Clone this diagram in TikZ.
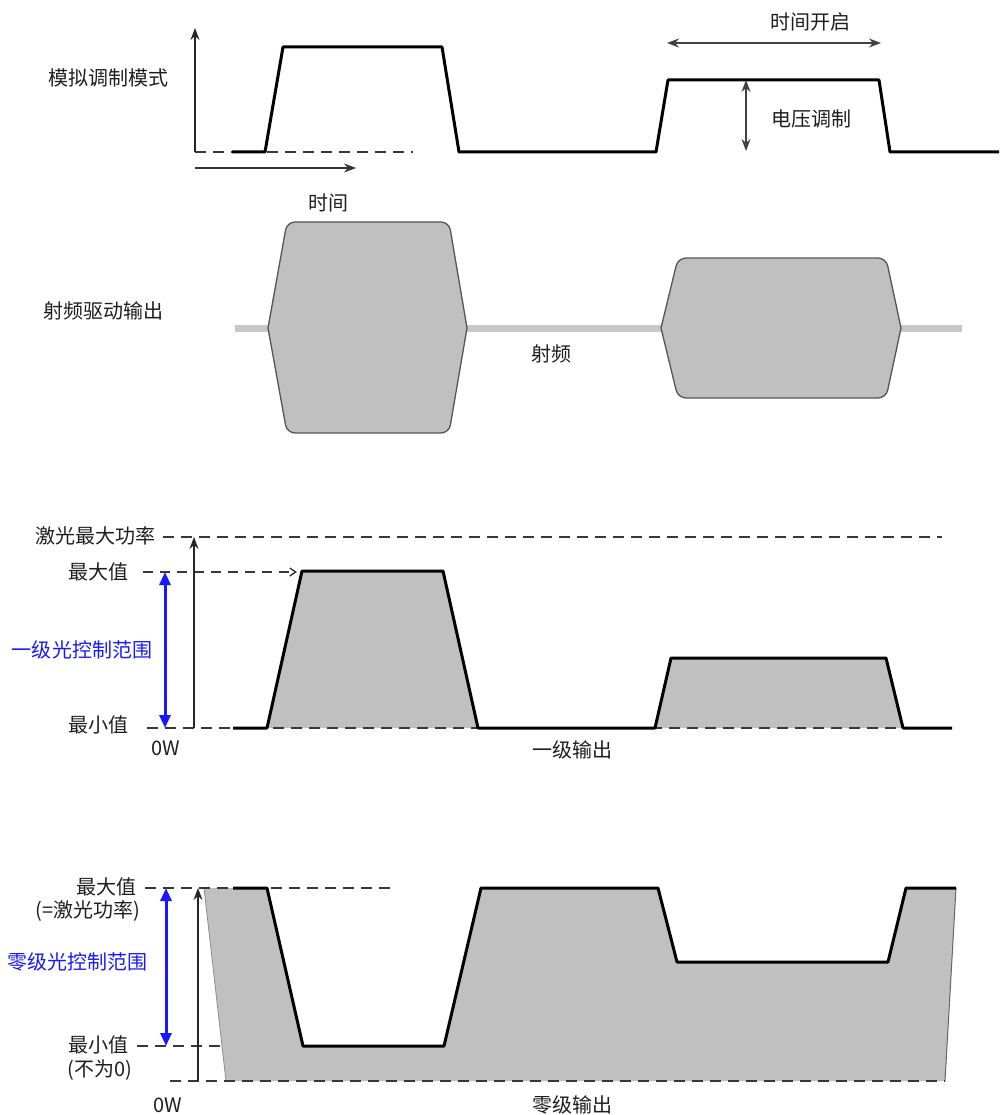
\documentclass[tikz,border=0pt]{standalone}
\usepackage{fontspec}
\setmainfont{Noto Sans CJK SC}
\usetikzlibrary{arrows.meta}
\definecolor{fillgray}{RGB}{192,192,192}
\definecolor{rfline}{RGB}{200,200,200}
\definecolor{edgegray}{RGB}{85,85,85}
\definecolor{dashgray}{RGB}{55,55,55}
\definecolor{lblblue}{RGB}{25,25,255}
\definecolor{txt}{RGB}{30,30,30}
\begin{document}
\begin{tikzpicture}[x=1pt,y=-1pt,
  sig/.style={line width=3pt, black, line join=round},
  dashln/.style={draw=dashgray, line width=1.8pt, dash pattern=on 11pt off 7pt},
  lbl/.style={font=\fontsize{20}{24}\selectfont, text=txt, inner sep=0pt},
  bluelbl/.style={lbl, text=lblblue},
  thinarrow/.style={draw=black!85, line width=1.2pt, -{Stealth[length=12pt,width=9pt]}},
  thindbl/.style={draw=black!75, line width=1.2pt, {Stealth[length=12pt,width=9pt]}-{Stealth[length=12pt,width=9pt]}},
  bluedbl/.style={draw=lblblue, line width=3pt, {Triangle[length=13pt,width=11pt]}-{Triangle[length=13pt,width=11pt]}},
  rfbox/.style={fill=fillgray, draw=edgegray, line width=1.3pt},
  fillarea/.style={fill=fillgray}]
\useasboundingbox (0,0) rectangle (999,1115);

% ---------- Section 1: analog modulation ----------
\coordinate (yaxB) at (195,152);
\coordinate (yaxT) at (195,28);
\coordinate (tA) at (195,168);
\coordinate (tB) at (356,168);
\draw[thinarrow] (yaxB) -- (yaxT);
\draw[thinarrow, draw=black!80] (tA) -- (tB);
\draw[dashln] (195,152) -- (413,152);
\draw[sig] (232,152) -- (265,152) -- (283,47) -- (442,47) -- (459,152) -- (656,152) -- (668,80) -- (879,80) -- (890,152) -- (999,152);
\coordinate (onL) at (667,43);
\coordinate (onR) at (881,43);
\draw[thindbl] (onL) -- (onR);
\coordinate (vmT) at (746,80);
\coordinate (vmB) at (746,151);
\draw[thindbl] (vmT) -- (vmB);
\node[lbl] (anmod) at (108,78) {模拟调制模式};
\node[lbl] (time) at (328,203) {时间};
\node[lbl] (timeon) at (810,22) {时间开启};
\node[lbl] (volt) at (811,119) {电压调制};

% ---------- Section 2: RF drive output ----------
\draw[draw=rfline, line width=7pt] (235,328) -- (962,328);
\draw[rfbox] (268,328) [rounded corners=8pt] -- (287,222) -- (449,222) [sharp corners] -- (467,328) [rounded corners=8pt] -- (449,433) -- (287,433) [sharp corners] -- cycle;
\draw[rfbox] (661,328) [rounded corners=8pt] -- (678,258) -- (886,258) [sharp corners] -- (901,328) [rounded corners=8pt] -- (886,398) -- (678,398) [sharp corners] -- cycle;
\node[lbl] (rfout) at (103,311) {射频驱动输出};
\node[lbl] (rf) at (551,354) {射频};

% ---------- Section 3: first-order output ----------
\fill[fillarea] (267,728) -- (302,571) -- (443,571) -- (478,728) -- cycle;
\fill[fillarea] (655,728) -- (671,658) -- (886,658) -- (903,728) -- cycle;
\draw[dashln] (163,537) -- (942,537);
\draw[dashln] (147,728) -- (952,728);
\coordinate (maxA) at (143,572);
\coordinate (maxB) at (297,572);
\draw[draw=dashgray, line width=1.4pt, dash pattern=on 10pt off 7pt, -{Straight Barb[length=6pt,width=8pt]}] (maxA) -- (maxB);
\draw[sig] (233,728) -- (267,728) -- (302,571) -- (443,571) -- (478,728) -- (655,728) -- (671,658) -- (886,658) -- (903,728) -- (952,728);
\coordinate (p1B) at (194,728);
\coordinate (p1T) at (194,537);
\draw[thinarrow] (p1B) -- (p1T);
\coordinate (b1T) at (165,572);
\coordinate (b1B) at (165,728);
\draw[bluedbl] (b1T) -- (b1B);
\node[lbl] (lasermax) at (95,536) {激光最大功率};
\node[lbl] (max1) at (98,572) {最大值};
\node[bluelbl] (range1) at (82,650) {一级光控制范围};
\node[lbl] (min1) at (98,725) {最小值};
\node[lbl] (zero1) at (166,748) {0W};
\node[lbl] (out1) at (572,750) {一级输出};

% ---------- Section 4: zero-order output ----------
\fill[fillarea] (204,888) -- (267,888) -- (303,1046) -- (444,1046) -- (481,888) -- (658,888) -- (677,962) -- (888,962) -- (906,888) -- (956,888) -- (945,1081) -- (226,1081) -- cycle;
\draw[draw=black!45, line width=0.8pt] (226,1081) -- (204,888);
\draw[draw=black!60, line width=1pt] (956,888) -- (945,1081);
\draw[dashln] (145,888) -- (397,888);
\draw[dashln] (137,1046) -- (222,1046);
\draw[dashln] (170,1081) -- (945,1081);
\draw[sig] (233,888) -- (267,888) -- (303,1046) -- (444,1046) -- (481,888) -- (658,888) -- (677,962) -- (888,962) -- (906,888) -- (956,888);
\coordinate (p0B) at (198,1081);
\coordinate (p0T) at (198,888);
\draw[thinarrow] (p0B) -- (p0T);
\coordinate (b0T) at (166,888);
\coordinate (b0B) at (166,1046);
\draw[bluedbl] (b0T) -- (b0B);
\node[lbl] (max0) at (106,887) {最大值};
\node[lbl] (eqlaser) at (88,911) {(=激光功率)};
\node[bluelbl] (range0) at (77,962) {零级光控制范围};
\node[lbl] (min0) at (98,1045) {最小值};
\node[lbl] (notzero) at (100,1070) {(不为0)};
\node[lbl] (zero0) at (168,1105) {0W};
\node[lbl] (out0) at (572,1105) {零级输出};
\end{tikzpicture}
\end{document}
